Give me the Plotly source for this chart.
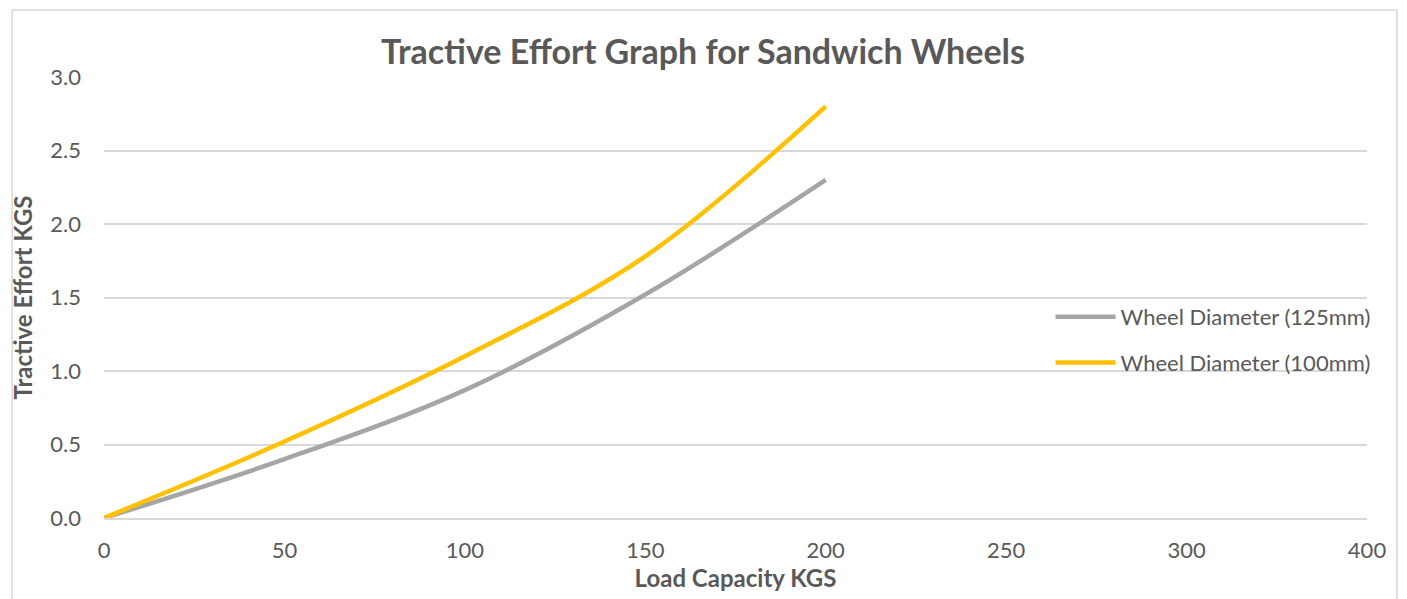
import plotly.graph_objects as go

categories = ["0", "50", "100", "150", "200", "250", "300", "400"]
wheel_125 = [0.0, 0.40, 0.87, 1.52, 2.30, None, None, None]
wheel_100 = [0.0, 0.52, 1.10, 1.78, 2.80, None, None, None]
series_names = ["Wheel Diameter (125mm)", "Wheel Diameter (100mm)"]
y_ticks = [0.0, 0.5, 1.0, 1.5, 2.0, 2.5, 3.0]

TXT = "#595959"
GRID = "#D9D9D9"
FONT = "Lato, Calibri, 'Open Sans', sans-serif"

fig = go.Figure()
fig.add_trace(go.Scatter(x=categories, y=wheel_125, mode="lines", name=series_names[0],
                         legendgroup="g1",
                         line=dict(color="#A5A5A5", width=4.5, shape="spline", smoothing=1.0)))
fig.add_trace(go.Scatter(x=categories, y=wheel_100, mode="lines", name=series_names[1],
                         legendgroup="g2",
                         line=dict(color="#FFC000", width=4.5, shape="spline", smoothing=1.0)))

fig.update_layout(
    width=1407, height=599,
    paper_bgcolor="white", plot_bgcolor="white",
    margin=dict(l=94, r=48, t=69, b=89),
    font=dict(family=FONT, color=TXT, size=22),
    title=dict(text="<b>Tractive Effort Graph for Sandwich Wheels</b>",
               x=(703 - 8) / 1407, xanchor="center", y=1 - 44 / 599, yanchor="middle", yref="container",
               font=dict(size=34, color=TXT, family=FONT)),
    legend=dict(x=(1050 - 102) / 1265, y=(518 - 296) / 441, xanchor="left", yanchor="top",
                bgcolor="rgba(0,0,0,0)", font=dict(size=22, color=TXT), tracegroupgap=14,
                itemwidth=60),
    showlegend=True,
)
fig.update_xaxes(type="category", categoryorder="array", categoryarray=categories,
                 range=[0, 7], showgrid=False, zeroline=False,
                 showline=True, linecolor=GRID, linewidth=1.5,
                 ticks="", ticklabelstandoff=12, tickfont=dict(size=22, color=TXT),
                 title=dict(text="<b>Load Capacity KGS</b>", font=dict(size=24, color=TXT), standoff=8))
fig.update_yaxes(range=[0, 3], tickvals=y_ticks, tickformat=".1f",
                 showgrid=True, gridcolor=GRID, gridwidth=1.5, zeroline=False,
                 ticks="", ticklabelstandoff=22, tickfont=dict(size=22, color=TXT),
                 title=dict(text="<b>Tractive Effort KGS</b>", font=dict(size=24, color=TXT), standoff=13))

# chart-area border
fig.add_shape(type="rect", xref="paper", yref="paper",
              x0=(10 - 102) / 1265, x1=(1397 - 102) / 1265,
              y0=(518 - 640) / 441, y1=(518 - 10) / 441,
              line=dict(color=GRID, width=1.5), fillcolor="rgba(0,0,0,0)", layer="below")

fig.write_html("out.html")
